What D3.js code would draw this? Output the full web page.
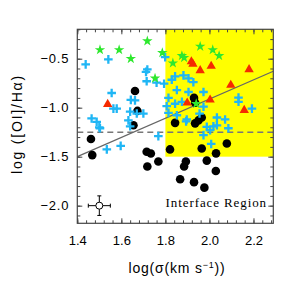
<!DOCTYPE html>
<html><head><meta charset="utf-8">
<script src="https://cdn.jsdelivr.net/npm/d3@7"></script>
<style>html,body{margin:0;padding:0;background:#fff;}svg{display:block;}</style>
</head><body>
<script>
const xTicks = [1.4, 1.6, 1.8, 2.0, 2.2];
const yTicks = [-0.5, -1.0, -1.5, -2.0];
const xDomain = [1.4, 2.29];
const yDomain = [-2.18, -0.2];
const interfaceX = 1.8, interfaceY = -1.5;
const dashedY = -1.25;
const fitSlope = 0.98, fitIntercept = -2.872;
const errPoint = [1.5, -2.0], errX = 0.05, errY = 0.1;

const blackCircles = [[1.662,-0.83],[1.673,-1.033],[1.655,-1.18],[1.93,-0.90],[1.935,-0.95],[1.844,-1.155],[1.935,-1.16],[1.95,-1.13],[1.965,-1.10],[1.462,-1.32],[1.468,-1.484],[1.715,-1.45],[1.734,-1.467],[1.718,-1.60],[1.768,-1.55],[1.821,-1.426],[1.893,-1.55],[1.885,-1.60],[1.867,-1.73],[1.93,-1.76],[1.977,-1.816],[1.965,-1.416],[1.988,-1.54],[2.03,-1.466],[2.029,-1.646],[2.079,-1.365]];
const cyanCrosses = [[1.438,-0.558],[1.541,-0.507],[1.718,-0.61],[1.712,-0.635],[1.715,-0.73],[1.76,-0.745],[1.799,-0.485],[1.794,-0.755],[1.829,-0.715],[1.844,-0.68],[1.882,-0.67],[1.905,-0.70],[1.927,-0.74],[1.852,-0.82],[1.905,-0.84],[1.973,-0.84],[1.814,-0.90],[1.844,-0.96],[1.875,-0.94],[1.556,-0.85],[1.564,-1.01],[1.579,-1.01],[1.643,-0.92],[1.662,-0.925],[1.64,-1.04],[1.67,-1.06],[1.70,-1.06],[1.632,-1.13],[1.64,-1.19],[1.465,-1.11],[1.488,-1.145],[1.50,-1.20],[1.503,-1.21],[1.768,-1.29],[1.806,-0.985],[1.814,-1.053],[1.852,-1.077],[1.897,-1.12],[1.955,-1.06],[1.973,-0.99],[2.132,-0.897],[2.132,-0.94],[2.193,-1.01],[2.034,-1.10],[2.071,-1.12],[2.086,-1.21],[2.018,-1.19],[1.988,-1.196],[2.003,-1.23],[1.973,-1.28],[1.534,-1.426],[1.597,-1.39],[1.894,-1.14],[2.034,-1.18],[2.008,-1.37]];
const redTriangles = [[1.918,-0.53],[1.925,-0.555],[1.958,-0.62],[2.008,-0.575],[2.18,-0.61],[2.097,-0.77],[1.538,-0.965],[1.899,-0.95],[2.003,-0.92],[2.158,-1.026]];
const greenStars = [[1.503,-0.41],[1.59,-0.41],[1.643,-0.50],[1.718,-0.32],[1.786,-0.44],[1.753,-0.70],[1.834,-0.545],[1.875,-0.47],[1.885,-0.49],[1.958,-0.375],[2.015,-0.41],[2.044,-0.47],[1.94,-0.96]];

const W = 294, H = 294;
const L = 77.3, R = 273.3, T = 29.3, B = 223.3;
const svg = d3.select("body").append("svg").attr("width", W).attr("height", H);
const x = d3.scaleLinear().domain(xDomain).range([L, R]);
const y = d3.scaleLinear().domain(yDomain).range([B, T]);

// yellow region
svg.append("rect").attr("x", x(interfaceX)).attr("y", T)
  .attr("width", R - x(interfaceX)).attr("height", y(interfaceY) - T).attr("fill", "#ffff00");

const clip = svg.append("clipPath").attr("id","c").append("rect").attr("x",L).attr("y",T).attr("width",R-L).attr("height",B-T);
const g = svg.append("g").attr("clip-path","url(#c)");

// dashed line
g.append("line").attr("x1", L).attr("x2", R).attr("y1", y(dashedY)).attr("y2", y(dashedY))
  .attr("stroke", "#777").attr("stroke-width", 1.5).attr("stroke-dasharray", "6,4");
// fit line
g.append("line").attr("x1", x(xDomain[0])).attr("y1", y(fitIntercept + fitSlope*xDomain[0]))
  .attr("x2", x(xDomain[1])).attr("y2", y(fitIntercept + fitSlope*xDomain[1]))
  .attr("stroke", "#666").attr("stroke-width", 1.2);

g.selectAll("circle.b").data(blackCircles).join("circle").attr("class","b")
  .attr("cx", d => x(d[0])).attr("cy", d => y(d[1])).attr("r", 4.3).attr("fill", "#000");

const a = 4.3;
g.selectAll("path.c").data(cyanCrosses).join("path").attr("class","c")
  .attr("d", d => { const px = x(d[0]), py = y(d[1]); return `M${px-a},${py}H${px+a}M${px},${py-a}V${py+a}`; })
  .attr("stroke", "#1fb6f5").attr("stroke-width", 2.3).attr("fill", "none");

const tri = d3.symbol().type(d3.symbolTriangle).size(38);
g.selectAll("path.t").data(redTriangles).join("path").attr("class","t")
  .attr("transform", d => `translate(${x(d[0])},${y(d[1])})`).attr("d", tri).attr("fill", "#f52a00");

const star = d3.symbol().type(d3.symbolStar).size(34);
g.selectAll("path.s").data(greenStars).join("path").attr("class","s")
  .attr("transform", d => `translate(${x(d[0])},${y(d[1])})`).attr("d", star).attr("fill", "#2ee82e");

// error bar marker
const ex = x(errPoint[0]), ey = y(errPoint[1]);
const eg = svg.append("g").attr("stroke", "#000").attr("stroke-width", 1).attr("fill", "none");
eg.append("line").attr("x1", x(errPoint[0]-errX)).attr("x2", x(errPoint[0]+errX)).attr("y1", ey).attr("y2", ey);
eg.append("line").attr("y1", y(errPoint[1]-errY)).attr("y2", y(errPoint[1]+errY)).attr("x1", ex).attr("x2", ex);
[errPoint[0]-errX, errPoint[0]+errX].forEach(v => eg.append("line").attr("x1", x(v)).attr("x2", x(v)).attr("y1", ey-2).attr("y2", ey+2));
[errPoint[1]-errY, errPoint[1]+errY].forEach(v => eg.append("line").attr("y1", y(v)).attr("y2", y(v)).attr("x1", ex-2).attr("x2", ex+2));
eg.append("circle").attr("cx", ex).attr("cy", ey).attr("r", 3.5).attr("fill", "#fff");

// frame
svg.append("rect").attr("x", L).attr("y", T).attr("width", R-L).attr("height", B-T)
  .attr("fill", "none").attr("stroke", "#444").attr("stroke-width", 1.2);

// axes
const xMinor = d3.range(0, 23).map(i => xDomain[0] + i*0.04);
const yMinor = d3.range(-21, -1).map(i => i/10);
function styleAxis(sel){ sel.select(".domain").remove(); sel.selectAll("line").attr("stroke","#444"); }
const fnt = "'Liberation Sans', Arial, sans-serif";
svg.append("g").attr("transform",`translate(0,${B})`).call(d3.axisBottom(x).tickValues(xMinor).tickSize(-3).tickFormat("")).call(styleAxis);
svg.append("g").attr("transform",`translate(0,${T})`).call(d3.axisTop(x).tickValues(xMinor).tickSize(-3).tickFormat("")).call(styleAxis);
svg.append("g").attr("transform",`translate(0,${T})`).call(d3.axisTop(x).tickValues(xTicks).tickSize(-5).tickFormat("")).call(styleAxis);
const xb = svg.append("g").attr("transform",`translate(0,${B})`).call(d3.axisBottom(x).tickValues(xTicks).tickSize(-5).tickPadding(12).tickFormat(d3.format(".1f"))).call(styleAxis);
xb.selectAll("text").attr("font-family", fnt).attr("font-size", 13).attr("fill","#000");
svg.append("g").attr("transform",`translate(${L},0)`).call(d3.axisLeft(y).tickValues(yMinor).tickSize(-3).tickFormat("")).call(styleAxis);
svg.append("g").attr("transform",`translate(${R},0)`).call(d3.axisRight(y).tickValues(yMinor).tickSize(-3).tickFormat("")).call(styleAxis);
svg.append("g").attr("transform",`translate(${R},0)`).call(d3.axisRight(y).tickValues(yTicks).tickSize(-5).tickFormat("")).call(styleAxis);
const yl = svg.append("g").attr("transform",`translate(${L},0)`).call(d3.axisLeft(y).tickValues(yTicks).tickSize(-5).tickPadding(8).tickFormat(d3.format(".1f"))).call(styleAxis);
yl.selectAll("text").attr("font-family", fnt).attr("font-size", 13).attr("fill","#000").attr("letter-spacing", 0.8);

// labels
svg.append("text").attr("x", 177).attr("y", 273).attr("text-anchor","middle")
  .attr("font-family", fnt).attr("font-size", 14).attr("letter-spacing", 0.8)
  .html('log(σ(km s<tspan dy="-5" font-size="9">−1</tspan><tspan dy="5">))</tspan>');
svg.append("text").attr("transform","translate(22,124) rotate(-90)").attr("text-anchor","middle")
  .attr("font-family", fnt).attr("font-size", 14).attr("letter-spacing", 1.8)
  .text("log ([OI]/Hα)");
svg.append("text").attr("x", 267).attr("y", 207).attr("text-anchor","end")
  .attr("font-family","'Liberation Serif', 'Times New Roman', serif").attr("font-size", 13).attr("letter-spacing", 0.9)
  .text("Interface Region");
</script>
</body></html>
